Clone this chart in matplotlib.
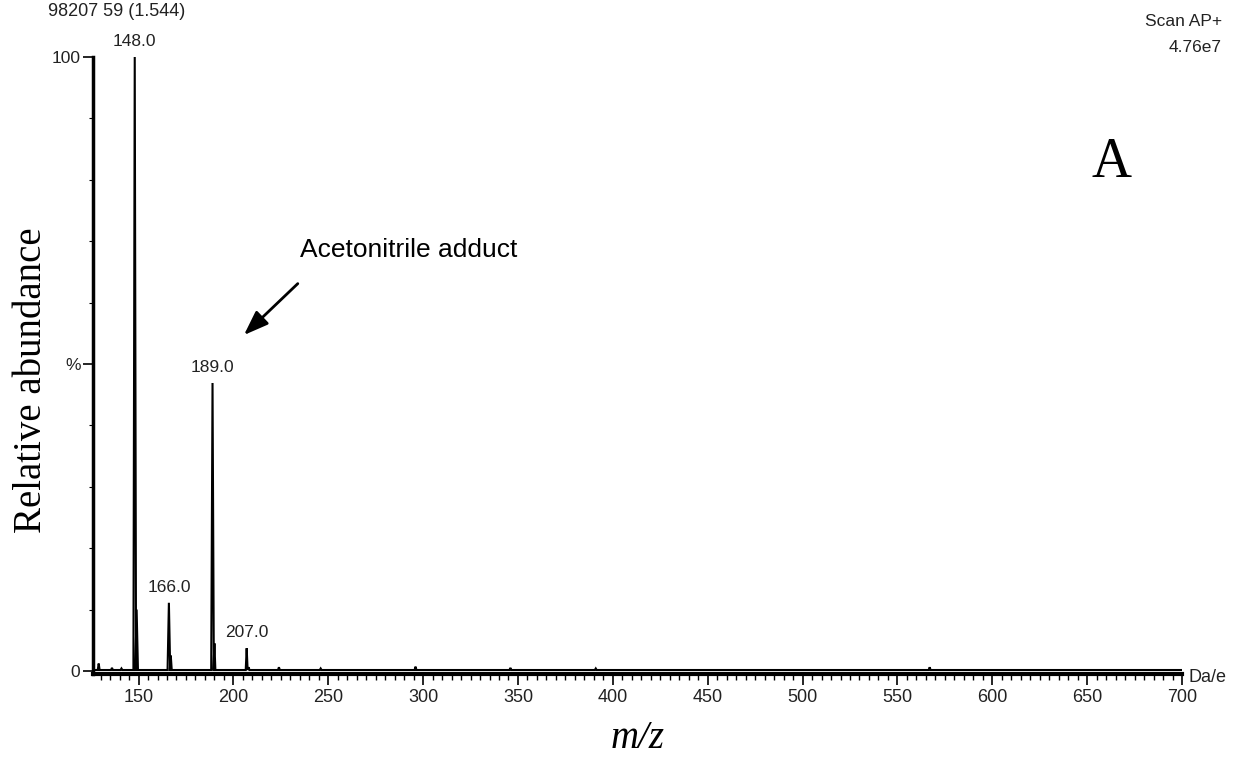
import matplotlib.pyplot as plt
from matplotlib.ticker import MultipleLocator

# peak centroids (m/z) and relative abundance (%)
peak_mz = [129.0, 136.0, 141.0, 148.0, 149.0, 166.0, 167.0, 189.0, 190.0,
           207.0, 208.0, 224.0, 246.0, 296.0, 346.0, 391.0, 567.0]
peak_int = [1.2, 0.5, 0.4, 100.0, 10.0, 11.1, 2.5, 46.9, 4.5,
            3.7, 0.6, 0.6, 0.4, 0.7, 0.5, 0.4, 0.6]
labelled = [(148.0, 100.0, "148.0"), (166.0, 11.1, "166.0"),
            (189.0, 46.9, "189.0"), (207.0, 3.7, "207.0")]

xmin, xmax = 126, 700

fig = plt.figure(figsize=(12.37, 7.58), dpi=100)
ax = fig.add_axes([93/1237, 1-674/758, (1182-93)/1237, (674-57)/758])

# profile: each peak as a narrow triangle on the baseline
xs, ys = [xmin], [0.15]
for mz, h in zip(peak_mz, peak_int):
    w = 0.7 if h > 5 else 0.5
    xs += [mz - w, mz, mz + w]
    ys += [0.15, h, 0.15]
xs.append(xmax)
ys.append(0.15)
ax.plot(xs, ys, color="black", lw=1.5, solid_joinstyle="miter")

for mz, h, t in labelled:
    ax.text(mz, h + 1.3, t, ha="center", va="bottom", fontsize=12.5,
            family="Liberation Sans", color="#222222")

ax.set_xlim(xmin, xmax)
ax.set_ylim(-0.5, 100)
for s in ["top", "right"]:
    ax.spines[s].set_visible(False)
ax.spines["left"].set_linewidth(2.5)
ax.spines["bottom"].set_linewidth(3)

ax.set_yticks([0, 50, 100])
ax.set_yticklabels(["0", "%", "100"], family="Liberation Sans", fontsize=12.5,
                   color="#222222")
ax.yaxis.set_minor_locator(MultipleLocator(10))
ax.tick_params(axis="y", which="major", length=7, width=1.2, pad=2)
ax.tick_params(axis="y", which="minor", length=3, width=0.8)

ax.set_xticks(range(150, 701, 50))
ax.xaxis.set_minor_locator(MultipleLocator(5))
ax.tick_params(axis="x", which="major", length=8, width=1.2, pad=3, labelsize=13,
               labelcolor="#222222")
ax.tick_params(axis="x", which="minor", length=4, width=1)
for lab in ax.get_xticklabels():
    lab.set_family("Liberation Sans")

fig.text(32/1237, 1-380/758, "Relative abundance", rotation=90, ha="center",
         va="center", family="Liberation Serif", fontsize=28)
fig.text(638/1237, 1-738/758, "m/z", ha="center", va="center",
         family="Liberation Serif", style="italic", fontsize=28)

ax.annotate("", xy=(204.5, 54.4), xytext=(235.0, 63.4),
            arrowprops=dict(arrowstyle="-|>,head_length=1.5,head_width=0.55",
                            color="black", lw=2))
ax.text(235, 68.6, "Acetonitrile adduct", ha="left", va="center",
        fontsize=19, family="Liberation Sans")
ax.text(663, 82.7, "A", ha="center", va="center", fontsize=40,
        family="Liberation Serif")

fig.text(48/1237, 1-12/758, "98207 59 (1.544)", ha="left", va="center",
         fontsize=13, family="Liberation Sans", color="#222222")
fig.text(1222/1237, 1-22/758, "Scan AP+", ha="right", va="center",
         fontsize=12.5, family="Liberation Sans", color="#222222")
fig.text(1222/1237, 1-47/758, "4.76e7", ha="right", va="center",
         fontsize=12.5, family="Liberation Sans", color="#222222")
fig.text(1188/1237, 1-678/758, "Da/e", ha="left", va="center",
         fontsize=13, family="Liberation Sans", color="#222222")

fig.savefig("out.png", dpi=100)
